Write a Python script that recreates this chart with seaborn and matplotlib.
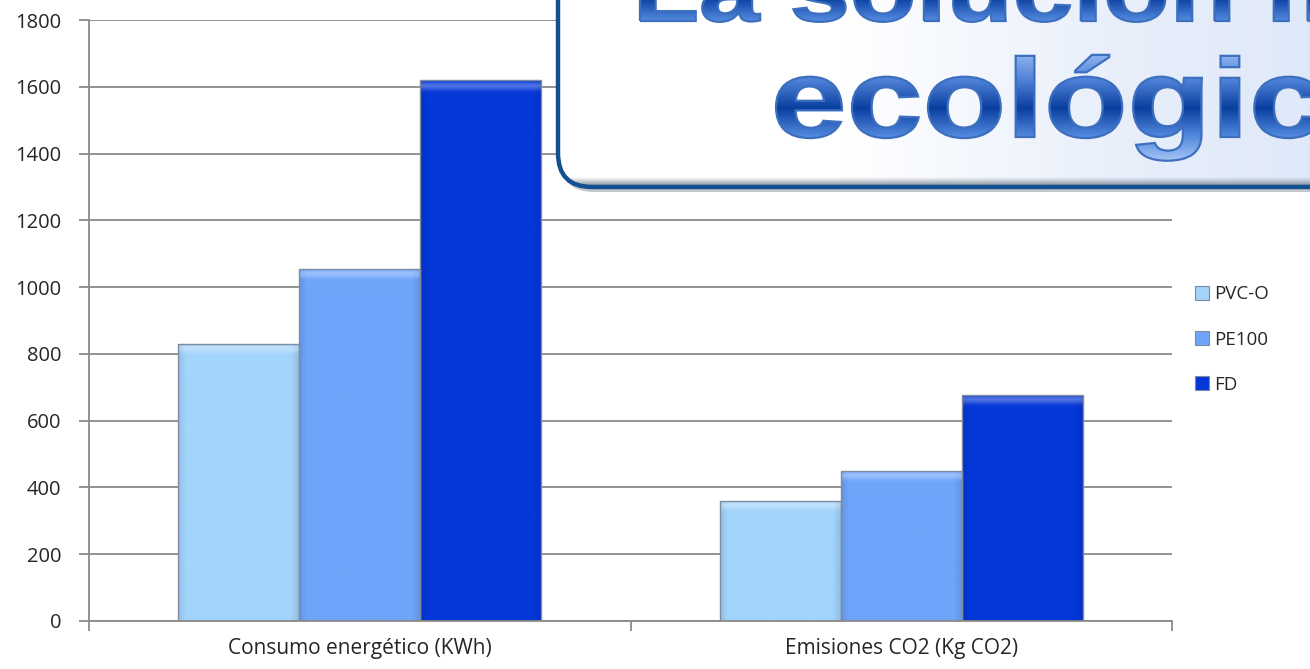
import numpy as np
import pandas as pd
import matplotlib
matplotlib.use("Agg")
import matplotlib.pyplot as plt
import seaborn as sns
from matplotlib.patches import FancyBboxPatch, Patch, PathPatch
from matplotlib.textpath import TextPath
from matplotlib.font_manager import FontProperties
from matplotlib.transforms import Affine2D
from matplotlib.colors import LinearSegmentedColormap, to_rgb

# Chart data
categories = ["Consumo energético (KWh)", "Emisiones CO2 (Kg CO2)"]
series = ["PVC-O", "PE100", "FD"]
pvc_o = [830, 360]
pe100 = [1055, 450]
fd = [1620, 677]
y_ticks = [0, 200, 400, 600, 800, 1000, 1200, 1400, 1600, 1800]
banner_lines = ["La solución más", "ecológica"]

colors = ["#a3d4fc", "#6ea5fb", "#0437d8"]

df = pd.DataFrame({
    "categoria": categories * 3,
    "material": [s for s in series for _ in categories],
    "valor": pvc_o + pe100 + fd,
})

sns.set_style("white")
plt.rcParams["font.family"] = ["Open Sans", "DejaVu Sans"]

W, H = 1310, 669
fig = plt.figure(figsize=(W / 100, H / 100), dpi=100)
ax = fig.add_axes([89 / W, 1 - 621 / H, (1172 - 89) / W, (621 - 20) / H])

sns.barplot(data=df, x="categoria", y="valor", hue="material",
            hue_order=series, palette=colors, width=0.67, ax=ax,
            edgecolor="#7f8ba0", linewidth=1.0, saturation=1, legend=False)

ax.set_xlim(-0.5, 1.5)
ax.set_ylim(0, 1800)
px_per_unit = (621 - 20) / 1800.0

# soft bevel: lighter band along the top, faint darker sides
for patch in list(ax.patches):
    x0, y0 = patch.get_x(), patch.get_y()
    w, h = patch.get_width(), patch.get_height()
    base = np.array(to_rgb(patch.get_facecolor()))
    nx, ny = 80, 300
    img = np.ones((ny, nx, 4))
    xs = np.linspace(0, 1, nx)
    side = np.clip(1 - np.minimum(xs, 1 - xs) / 0.06, 0, 1) * 0.10
    rgb = base[None, None, :] * (1 - side[None, :, None])
    ys = np.linspace(y0 + h, y0, ny)
    depth = (y0 + h - ys) * px_per_unit  # pixels below the top edge
    band = (np.exp(-((depth - 5.0) / 4.0) ** 2) * 0.30)[:, None, None]
    rgb = rgb * (1 - band) + band
    img[..., :3] = np.broadcast_to(rgb, (ny, nx, 3))
    im = ax.imshow(img, extent=[x0, x0 + w, y0, y0 + h], aspect="auto",
                   zorder=patch.get_zorder() + 0.1, interpolation="bilinear")
    im.set_clip_path(patch)
    patch.set_zorder(patch.get_zorder() + 0.2)
    patch.set_facecolor("none")

ax.set_yticks(y_ticks)
ax.set_xlabel("")
ax.set_ylabel("")
ax.grid(axis="y", color="#8a8a8a", linewidth=1.3)
ax.set_axisbelow(True)
for s in ["top", "right"]:
    ax.spines[s].set_visible(False)
for s in ["left", "bottom"]:
    ax.spines[s].set_color("#8a8a8a")
    ax.spines[s].set_linewidth(1.3)
ax.tick_params(axis="y", length=7, width=1.3, color="#8a8a8a",
               labelsize=14.5, pad=13, left=True)
ax.tick_params(axis="x", which="major", length=0, labelsize=15, pad=12)
ax.set_xticks([-0.5, 0.5, 1.5], minor=True)
ax.tick_params(axis="x", which="minor", length=7, width=1.3, color="#8a8a8a",
               bottom=True)

# legend
handles = [Patch(facecolor=c, edgecolor="#7d8aa0", linewidth=0.8) for c in colors]
fig.legend(handles, series, loc="upper left",
           bbox_to_anchor=(1186 / W, 1 - 276 / H), frameon=False,
           fontsize=13.5, handlelength=0.75, handleheight=0.75,
           handletextpad=0.25, labelspacing=1.45, borderpad=0)

# banner box with gradient and title lettering (pixel-space overlay)
ov = fig.add_axes([0, 0, 1, 1], zorder=5)
ov.set_xlim(0, W)
ov.set_ylim(H, 0)
ov.axis("off")
ov.patch.set_alpha(0)

bx0, by0, bx1, by1 = 558, -80, 1400, 187
shadow = FancyBboxPatch((bx0 + 2, by0 + 5), bx1 - bx0, by1 - by0,
                        boxstyle="round,pad=0,rounding_size=34",
                        facecolor="#9aa3ad", edgecolor="none", alpha=0.6)
ov.add_patch(shadow)
box = FancyBboxPatch((bx0, by0), bx1 - bx0, by1 - by0,
                     boxstyle="round,pad=0,rounding_size=34",
                     facecolor="white", edgecolor="#12508f", linewidth=3.2)
ov.add_patch(box)
grad = np.linspace(0, 1, 256)[None, :]
box_cmap = LinearSegmentedColormap.from_list(
    "boxfill", ["#ffffff", "#ffffff", "#e8effb", "#dce6f8"])
gim = ov.imshow(grad, extent=[bx0, bx1, by1, by0], cmap=box_cmap,
                aspect="auto", zorder=5.5)
gim.set_clip_path(box)
# grey bevel along the lower inner edge
bev = np.linspace(0, 1, 64)[:, None] * np.ones((1, 4))
bev_cmap = LinearSegmentedColormap.from_list(
    "bev", [(1, 1, 1, 0), (0.55, 0.6, 0.65, 0.0), (0.45, 0.5, 0.55, 0.8)])
bim = ov.imshow(bev, extent=[bx0, bx1, by1 - 2, by1 - 18], cmap=bev_cmap,
                aspect="auto", zorder=5.6)
bim.set_clip_path(box)
box.set_zorder(5.7)
box.set_facecolor("none")

fp = FontProperties(family="Liberation Sans", weight="bold")
text_cmap = LinearSegmentedColormap.from_list(
    "letters", ["#8fb4ee", "#4c7fd6", "#0a3f9f", "#4f86dc", "#a8c8f6"])
stretch = 1.22
for line, em, x_left, base in [(banner_lines[0], 89, 640, 21),
                               (banner_lines[1], 112, 776, 137)]:
    tp = TextPath((0, 0), line, prop=fp, size=em)
    ext = tp.get_extents()
    tr = Affine2D().scale(stretch, -1).translate(x_left - stretch * ext.x0, base)
    path = tr.transform_path(tp)
    top = base - 0.74 * em
    bot = base + 0.22 * em
    vg = np.linspace(0, 1, 256)[:, None]
    tim = ov.imshow(vg, extent=[x_left - 20, x_left + 1400, bot, top],
                    cmap=text_cmap, aspect="auto", zorder=6)
    tim.set_clip_path(path, ov.transData)
    ov.add_patch(PathPatch(path, facecolor="none", edgecolor="#3d6fbf",
                           linewidth=1.6, zorder=6.1))

ov.set_xlim(0, W)
ov.set_ylim(H, 0)
fig.savefig("out.png", dpi=100)
